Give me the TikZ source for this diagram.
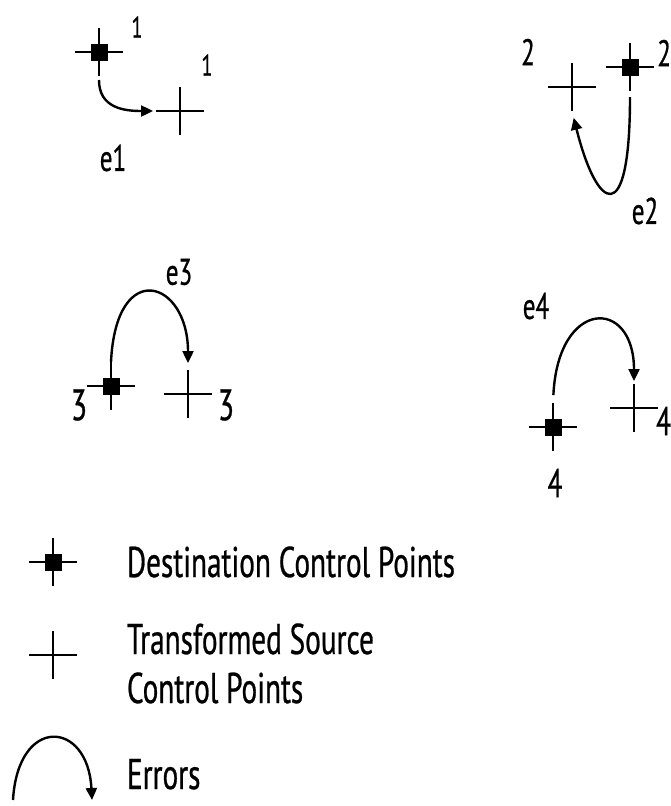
\documentclass[tikz,border=0pt]{standalone}
\usepackage{fontspec}
\setmainfont[FakeStretch=0.68,FakeBold=0.6]{PT Sans}
\usetikzlibrary{arrows.meta}
\tikzset{
  mk/.style={minimum size=48pt, inner sep=0pt, outer sep=0pt},
  crossmk/.style={mk, path picture={
      \draw[line width=2.2pt] (path picture bounding box.west) -- (path picture bounding box.east)
        (path picture bounding box.north) -- (path picture bounding box.south);}},
  dst/.style={mk, path picture={
      \draw[line width=2.4pt] (path picture bounding box.west) -- (path picture bounding box.east)
        (path picture bounding box.north) -- (path picture bounding box.south);
      \fill ([shift={(-8.5pt,-8.5pt)}]path picture bounding box.center) rectangle +(17pt,17pt);}},
  err/.style={line width=2.4pt, -{Triangle[length=12pt,width=11pt]}},
  lbl/.style={inner sep=0pt, outer sep=0pt},
}
\newcommand{\fs}[1]{\fontsize{#1}{#1}\selectfont}
\begin{document}
\begin{tikzpicture}[x=1pt,y=-1pt]
\useasboundingbox (0,0) rectangle (671,806);
% group 1
\node[dst] (d1) at (99,52) {};
\node[crossmk] (s1) at (180,111) {};
\node[lbl,font=\fs{30}] (l1a) at (137,27) {1};
\node[lbl,font=\fs{30}] (l1b) at (207,65) {1};
\node[lbl,font=\fs{37}] (e1) at (113,158) {e1};
\draw[err, shorten <=4pt, shorten >=3pt] (d1.south) .. controls +(0,32) and +(-32,0) .. (s1.west);
% group 2
\node[dst] (d2) at (630,67) {};
\node[crossmk] (s2) at (572,87) {};
\node[lbl,font=\fs{37}] (l2a) at (528,52) {2};
\node[lbl,font=\fs{37},anchor=east] (l2b) at (671,53) {2};
\node[lbl,font=\fs{37}] (e2) at (645,211) {e2};
\draw[err, shorten <=6pt, shorten >=7pt] (d2.south) .. controls +(0,140) and +(25,100) .. (s2.south);
% group 3
\node[dst] (d3) at (111,386) {};
\node[crossmk] (s3) at (188,394) {};
\node[lbl,font=\fs{44}] (l3a) at (79,405) {3};
\node[lbl,font=\fs{44}] (l3b) at (226,405) {3};
\node[lbl,font=\fs{37}] (e3) at (179,272) {e3};
\draw[err, shorten >=7pt] (d3.north) .. controls +(5,-105) and +(0,-90) .. (s3.north);
% group 4
\node[dst] (d4) at (553,427) {};
\node[crossmk] (s4) at (634,408) {};
\node[lbl,font=\fs{40}] (l4a) at (555,483) {4};
\node[lbl,font=\fs{40},anchor=east] (l4b) at (671,421) {4};
\node[lbl,font=\fs{37}] (e4) at (536,306) {e4};
\draw[err, shorten <=8pt, shorten >=3pt] (d4.north) .. controls +(5,-105) and +(0,-87) .. (s4.north);
% legend
\node[dst] (ld) at (53,562) {};
\node[crossmk] (ls) at (53,655) {};
\coordinate (ea) at (13,800);
\coordinate (eb) at (92,800);
\draw[err] (ea) .. controls (18,715) and (88,720) .. (eb);
\node[lbl,font=\fs{43},anchor=base west] (t1) at (127,577) {Destination Control Points};
\node[lbl,font=\fs{43},anchor=base west] (t2) at (127,654) {Transformed Source};
\node[lbl,font=\fs{43},anchor=base west] (t3) at (127,703) {Control Points};
\node[lbl,font=\fs{43},anchor=base west] (t4) at (127,789) {Errors};
\end{tikzpicture}
\end{document}
